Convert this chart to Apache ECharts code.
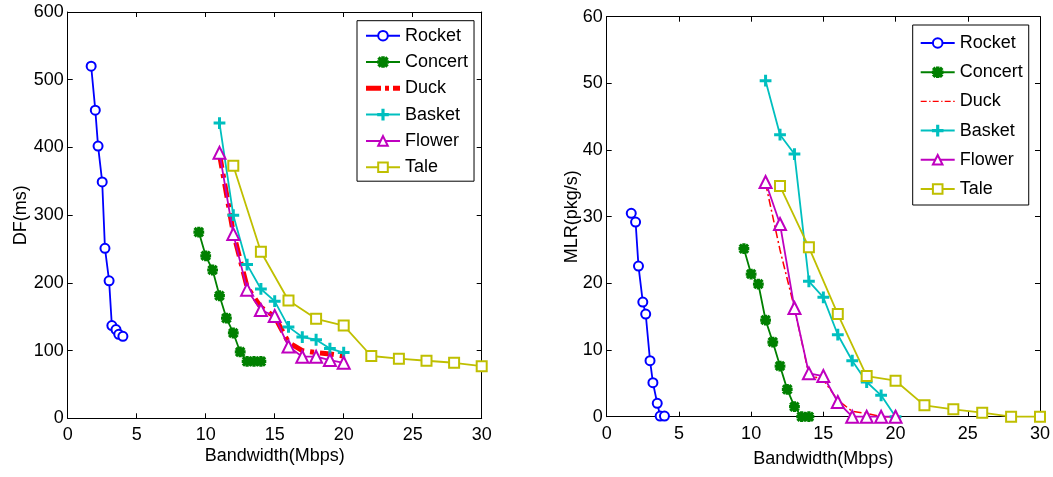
<!DOCTYPE html>
<html>
<head>
<meta charset="utf-8">
<script src="https://cdn.jsdelivr.net/npm/echarts@6/dist/echarts.min.js"></script>
<style>
html, body { margin: 0; padding: 0; background: #fff; }
#left { position: absolute; left: 0; top: 0; width: 530px; height: 477px; }
#right { position: absolute; left: 530px; top: 0; width: 523px; height: 477px; }
</style>
</head>
<body>
<div id="left"></div>
<div id="right"></div>
<script>
var FONT = '"Liberation Sans", Arial, sans-serif';

var names = ['Rocket', 'Concert', 'Duck', 'Basket', 'Flower', 'Tale'];

// bandwidth (Mbps) of each test
var rocketX = [1.7, 2, 2.2, 2.5, 2.7, 3, 3.2, 3.5, 3.7, 4];
var concertX = [9.5, 10, 10.5, 11, 11.5, 12, 12.5, 13, 13.5, 14];
var duckX = [11, 12, 13, 14, 15, 16, 17, 18, 19, 20];
var basketX = [11, 12, 13, 14, 15, 16, 17, 18, 19, 20];
var flowerX = [11, 12, 13, 14, 15, 16, 17, 18, 19, 20];
var taleX = [12, 14, 16, 18, 20, 22, 24, 26, 28, 30];

// DF(ms)
var rocketDF = [520, 455, 402, 349, 251, 203, 137, 131, 124, 121];
var concertDF = [275, 240, 219, 181, 148, 126, 98, 84, 84, 84];
var duckDF = [390, 274, 194, 164, 150, 112, 100, 97, 95, 92];
var basketDF = [436, 300, 227, 191, 173, 135, 120, 116, 103, 97];
var flowerDF = [392, 272, 190, 160, 151, 106, 91, 91, 86, 82];
var taleDF = [373, 246, 174, 147, 137, 92, 88, 85, 82, 77];

// MLR(pkg/s)
var rocketMLR = [30.5, 29.2, 22.6, 17.2, 15.4, 8.4, 5.1, 2.0, 0.1, 0.1];
var concertMLR = [25.2, 21.4, 19.9, 14.5, 11.2, 7.6, 4.1, 1.5, 0, 0];
var duckMLR = [35, 25, 16.3, 6.3, 5.5, 2.5, 0.8, 0.5, 0, 0];
var basketMLR = [50.4, 42.3, 39.4, 20.3, 17.9, 12.3, 8.4, 5.2, 3.2, 0];
var flowerMLR = [35.2, 28.9, 16.3, 6.5, 6.1, 2.2, 0, 0, 0, 0];
var taleMLR = [34.6, 25.4, 15.4, 6.1, 5.4, 1.7, 1.1, 0.6, 0, 0];

// matlab style markers
var STAR = 'path://M-0.8,-5 L0.8,-5 L0.8,5 L-0.8,5 Z M-5,-0.8 L5,-0.8 L5,0.8 L-5,0.8 Z ' +
    'M-3.4,-4.5 L4.5,3.4 L3.4,4.5 L-4.5,-3.4 Z M4.5,-3.4 L-3.4,4.5 L-4.5,3.4 L3.4,-4.5 Z';
var PLUS = 'path://M4.4,0 L5.6,0 L5.6,4.4 L10,4.4 L10,5.6 L5.6,5.6 L5.6,10 L4.4,10 L4.4,5.6 L0,5.6 L0,4.4 L4.4,4.4 Z';

// legend icons for the dash-dot Duck line (34x12 box, tiny corner marks keep the box)
var BOX = 'M0,0 L0.02,0 L0,0.02 Z M34,12 L33.98,12 L34,11.98 Z ';
var DUCK_THICK = 'path://' + BOX +
    'M0,3.5 L15,3.5 L15,8.5 L0,8.5 Z M19,3.5 L23,3.5 L23,8.5 L19,8.5 Z M27,3.5 L34,3.5 L34,8.5 L27,8.5 Z';
var DUCK_THIN = 'path://' + BOX +
    'M0,5.3 L6,5.3 L6,6.7 L0,6.7 Z M8.5,5.3 L9.8,5.3 L9.8,6.7 L8.5,6.7 Z ' +
    'M12,5.3 L18,5.3 L18,6.7 L12,6.7 Z M20.5,5.3 L21.8,5.3 L21.8,6.7 L20.5,6.7 Z ' +
    'M24,5.3 L30,5.3 L30,6.7 L24,6.7 Z M32.5,5.3 L34,5.3 L34,6.7 L32.5,6.7 Z';

function pairs(xs, ys) {
    var out = [];
    for (var i = 0; i < xs.length; i++) out.push([xs[i], ys[i]]);
    return out;
}

function lineSeries(name, xs, ys, color, symbol, size, extra) {
    var s = {
        name: name,
        type: 'line',
        clip: false,
        data: pairs(xs, ys),
        symbol: symbol,
        symbolSize: size,
        lineStyle: { color: color, width: 1.8 },
        itemStyle: { color: color, borderColor: color, borderWidth: 1.8 }
    };
    if (extra) {
        for (var k in extra) s[k] = extra[k];
    }
    return s;
}

function axisCommon() {
    return {
        type: 'value',
        axisLine: { show: true, onZero: false, lineStyle: { color: '#000', width: 1 } },
        axisTick: { show: true, inside: true, length: 5, lineStyle: { color: '#000' } },
        splitLine: { show: false }
    };
}

function buildOption(p) {
    var xb = axisCommon();
    xb.min = 0; xb.max = 30; xb.interval = 5;
    xb.name = 'Bandwidth(Mbps)';
    xb.nameLocation = 'middle';
    xb.nameGap = p.xNameGap;
    xb.nameMoveOverlap = false;
    xb.nameTextStyle = { fontSize: 18, color: '#000' };
    xb.axisLabel = { fontSize: 18, color: '#000', margin: 8 };

    var xt = axisCommon();
    xt.min = 0; xt.max = 30; xt.interval = 5;
    xt.position = 'top';
    xt.axisLabel = { show: false };

    var yl = axisCommon();
    yl.min = 0; yl.max = p.yMax; yl.interval = p.yStep;
    yl.name = p.yName;
    yl.nameLocation = 'middle';
    yl.nameGap = p.yNameGap;
    yl.nameMoveOverlap = false;
    yl.nameTextStyle = { fontSize: 18, color: '#000' };
    yl.axisLabel = { fontSize: 18, color: '#000', margin: 4 };

    var yr = axisCommon();
    yr.min = 0; yr.max = p.yMax; yr.interval = p.yStep;
    yr.position = 'right';
    yr.axisLabel = { show: false };

    var legendData = [];
    for (var i = 0; i < names.length; i++) {
        if (names[i] === 'Duck') legendData.push({ name: 'Duck', icon: p.duckIcon });
        else legendData.push(names[i]);
    }

    return {
        animation: false,
        backgroundColor: '#fff',
        textStyle: { fontFamily: FONT },
        grid: p.grid,
        legend: {
            orient: 'vertical',
            left: p.legend.left,
            top: p.legend.top,
            padding: p.legend.padding,
            itemGap: p.legend.gap,
            itemWidth: 34,
            itemHeight: 12,
            borderColor: '#000',
            borderWidth: 1,
            borderRadius: 0,
            backgroundColor: '#fff',
            textStyle: { fontSize: 18, lineHeight: 20, color: '#000', fontFamily: FONT },
            data: legendData
        },
        xAxis: [xb, xt],
        yAxis: [yl, yr],
        series: [
            lineSeries('Rocket', rocketX, p.data[0], '#0000ff', 'emptyCircle', 9),
            lineSeries('Concert', concertX, p.data[1], '#008000', STAR, 9),
            lineSeries('Duck', duckX, p.data[2], '#ff0000', 'none', 0, {
                lineStyle: { color: '#ff0000', width: p.duckWidth, type: p.duckDash },
                itemStyle: { color: '#ff0000', borderWidth: 0 }
            }),
            lineSeries('Basket', basketX, p.data[3], '#00bfbf', PLUS, 10),
            lineSeries('Flower', flowerX, p.data[4], '#bf00bf', 'emptyTriangle', 12),
            lineSeries('Tale', taleX, p.data[5], '#bfbf00', 'emptyRect', 10)
        ]
    };
}

var leftChart = echarts.init(document.getElementById('left'));
leftChart.setOption(buildOption({
    grid: { left: 67.7, top: 12, width: 414, height: 406.3 },
    yMax: 600, yStep: 100, yName: 'DF(ms)', yNameGap: 38, xNameGap: 29,
    legend: { left: 357, top: 20.7, padding: [5, 6, 4, 8], gap: 6.3 },
    duckWidth: 5, duckDash: [14, 6, 4, 6], duckIcon: DUCK_THICK,
    data: [rocketDF, concertDF, duckDF, basketDF, flowerDF, taleDF]
}));

var rightChart = echarts.init(document.getElementById('right'));
rightChart.setOption(buildOption({
    grid: { left: 76.7, top: 16.7, width: 433.3, height: 400 },
    yMax: 60, yStep: 10, yName: 'MLR(pkg/s)', yNameGap: 26, xNameGap: 33,
    legend: { left: 382.7, top: 25, padding: [8, 6, 6, 7], gap: 9.2 },
    duckWidth: 1.5, duckDash: [8, 3, 2, 3], duckIcon: DUCK_THIN,
    data: [rocketMLR, concertMLR, duckMLR, basketMLR, flowerMLR, taleMLR]
}));
</script>
</body>
</html>
